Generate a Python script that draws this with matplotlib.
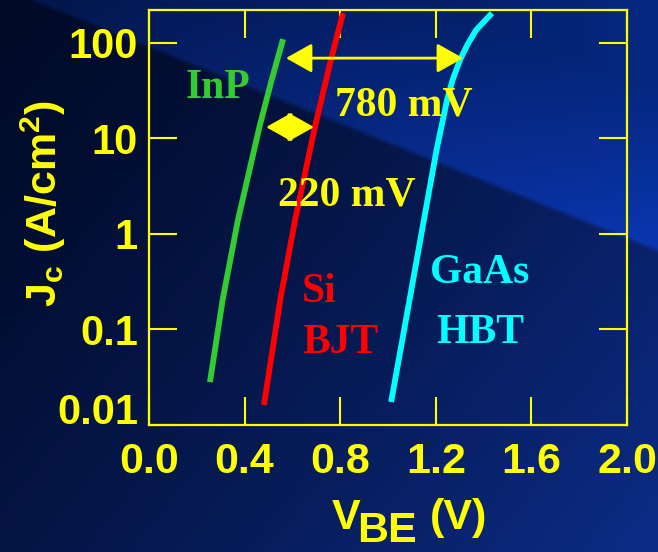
import matplotlib
matplotlib.use('Agg')
import matplotlib.pyplot as plt
import numpy as np
from matplotlib.ticker import FixedLocator, FixedFormatter, NullLocator
from matplotlib.transforms import ScaledTranslation

# Jc-VBE curves (V, A/cm^2)
inp_v = [0.255, 0.308, 0.372, 0.462, 0.513, 0.561]
inp_j = [0.0281, 0.203, 1.39, 13.1, 40.6, 109]

si_v = [0.481, 0.549, 0.611, 0.694, 0.763, 0.793, 0.812]
si_j = [0.0162, 0.203, 1.39, 13.1, 69, 135, 204]

gaas_v = [1.013, 1.090, 1.150, 1.203, 1.247, 1.270, 1.301, 1.332, 1.368, 1.435]
gaas_j = [0.0174, 0.203, 1.39, 7.53, 25.1, 40.6, 65.8, 95, 135, 204]

# turn-on voltage gaps marked by arrows
gap_780 = (0.573, 1.314, 69)
gap_220 = (0.490, 0.690, 13.1)

xticks = [0.0, 0.4, 0.8, 1.2, 1.6, 2.0]
xlabels = ['0.0', '0.4', '0.8', '1.2', '1.6', '2.0']
yticks = [0.01, 0.1, 1, 10, 100]
ylabels = ['0.01', '0.1', '1', '10', '100']

YEL = '#FFFF00'
GREEN = '#33CC33'
RED = '#FF0000'
CYAN = '#00FFFF'

plt.rcParams['mathtext.fontset'] = 'custom'
plt.rcParams['mathtext.rm'] = 'Liberation Sans:bold'
plt.rcParams['mathtext.it'] = 'Liberation Sans:bold'
plt.rcParams['mathtext.bf'] = 'Liberation Sans:bold'

fig = plt.figure(figsize=(6.58, 5.52), dpi=100)
fig.patch.set_facecolor('#020c2c')

# slide background: dark navy with a lighter diagonal band at upper right
H, W = 552, 658
yy, xx = np.mgrid[0:H, 0:W].astype(float)
edge = 0.4 * xx - 13
t = np.clip(0.6 * xx / W + 0.4 * yy / H, 0, 1)[..., None]
d0 = np.array([1, 10, 38]) / 255
d1 = np.array([12, 44, 135]) / 255
lower = d0 + (d1 - d0) * t ** 1.3
s = (xx / W)[..., None]
near = np.array([3, 20, 70]) / 255 + (np.array([10, 55, 178]) - np.array([3, 20, 70]))[None, None, :] / 255 * s
far = np.array([2, 14, 50]) / 255 + (np.array([5, 40, 130]) - np.array([2, 14, 50]))[None, None, :] / 255 * s
f = np.clip((edge - yy) / 160, 0, 1)[..., None]
upper = near + (far - near) * f
w = np.clip((edge - yy) / 6 + 0.5, 0, 1)[..., None]
bg_img = np.clip(lower * (1 - w) + upper * w, 0, 1)

bg = fig.add_axes([0, 0, 1, 1], zorder=-1)
bg.imshow(bg_img, aspect='auto', extent=[0, 1, 0, 1], interpolation='bilinear')
bg.axis('off')

ax = fig.add_axes([149 / 658, 1 - 425 / 552, 478 / 658, 415 / 552])
ax.set_facecolor('none')

ax.plot(inp_v, inp_j, color=GREEN, lw=4.2, solid_capstyle='butt', solid_joinstyle='round')
ax.plot(si_v, si_j, color=RED, lw=4.2, solid_capstyle='butt', solid_joinstyle='round')
ax.plot(gaas_v, gaas_j, color=CYAN, lw=4.2, solid_capstyle='butt', solid_joinstyle='round')

ax.set_yscale('log')
ax.set_xlim(0, 2.0)
ax.set_ylim(0.01, 220)

ax.xaxis.set_major_locator(FixedLocator(xticks))
ax.xaxis.set_major_formatter(FixedFormatter(xlabels))
ax.yaxis.set_major_locator(FixedLocator(yticks))
ax.yaxis.set_major_formatter(FixedFormatter(ylabels))
ax.yaxis.set_minor_locator(NullLocator())
ax.xaxis.set_minor_locator(NullLocator())

ax.tick_params(which='major', direction='in', length=20, width=1.5, color=YEL,
               top=True, right=True, labelcolor=YEL)
ax.tick_params(axis='x', pad=12, labelsize=31)
ax.tick_params(axis='y', pad=8, labelsize=30)
for lab in ax.get_xticklabels() + ax.get_yticklabels():
    lab.set_fontfamily('Liberation Sans')
    lab.set_fontweight('bold')
# bottom label sits a little above the axis line
lo = ax.get_yticklabels()[0]
lo.set_transform(lo.get_transform() + ScaledTranslation(0, 12 / 72, fig.dpi_scale_trans))

for sp in ax.spines.values():
    sp.set_color(YEL)
    sp.set_linewidth(1.6)

# arrows
arrow_kw = dict(arrowstyle='<|-|>,head_length=16,head_width=9', mutation_scale=1,
                color=YEL, lw=2, shrinkA=0, shrinkB=0)
ax.annotate('', xy=(gap_780[1], gap_780[2]), xytext=(gap_780[0], gap_780[2]),
            arrowprops=arrow_kw)
ax.annotate('', xy=(gap_220[1], gap_220[2]), xytext=(gap_220[0], gap_220[2]),
            arrowprops=arrow_kw)

serif = dict(family='Liberation Serif', weight='bold', fontsize=30, va='baseline')
ax.text(0.155, 26.3, 'InP', color=GREEN, ha='left', **serif)
ax.text(0.778, 17.5, '780 mV', color=YEL, ha='left', **serif)
ax.text(0.540, 2.0, '220 mV', color=YEL, ha='left', **serif)
ax.text(0.640, 0.194, 'Si', color=RED, ha='left', **serif)
ax.text(0.640, 0.0568, 'BJT', color=RED, ha='left', **serif)
ax.text(1.385, 0.305, 'GaAs', color=CYAN, ha='center', **serif)
ax.text(1.385, 0.0721, 'HBT', color=CYAN, ha='center', **serif)

# axis titles
sans = dict(family='Liberation Sans', weight='bold', color=YEL)
fig.text(43 / 658, 1 - 204 / 552, r'$\mathrm{J_c\ (A/cm^2)}$', rotation=90,
         ha='center', va='center', fontsize=31, **sans)
fig.text(332 / 658, 1 - 529 / 552, 'V', ha='left', va='baseline', fontsize=31, **sans)
fig.text(357 / 658, 1 - 542 / 552, 'BE', ha='left', va='baseline', fontsize=31, **sans)
fig.text(430 / 658, 1 - 529 / 552, '(V)', ha='left', va='baseline', fontsize=31, **sans)

fig.savefig('out.png', dpi=100, facecolor=fig.get_facecolor())
